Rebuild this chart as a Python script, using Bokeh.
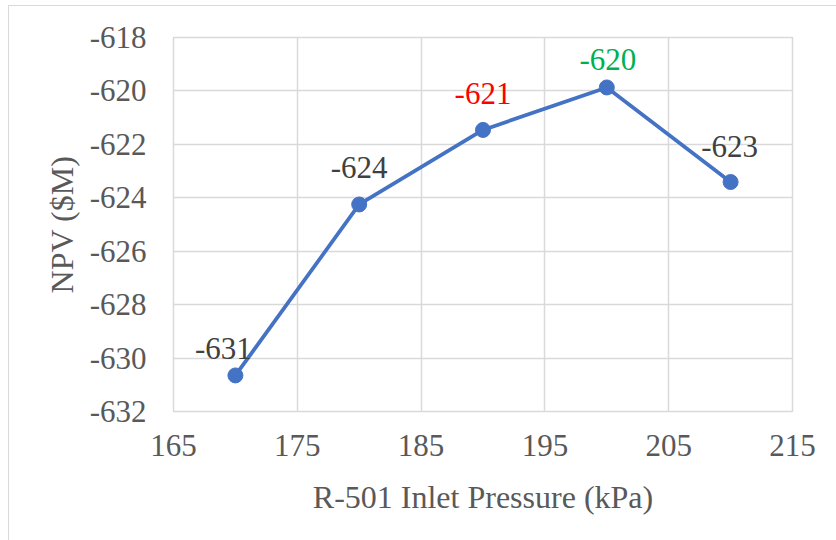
from bokeh.plotting import figure
from bokeh.models import FixedTicker, ColumnDataSource, PrintfTickFormatter
from bokeh.core.properties import value
from bokeh.embed import file_html
from bokeh.resources import INLINE

# R-501 inlet pressure (kPa) vs. net present value ($M)
pressure = [170, 180, 190, 200, 210]
npv = [-630.65, -624.25, -621.46, -619.87, -623.41]
label_colors = ["#404040", "#404040", "#FF0000", "#00B050", "#404040"]

x_ticks = [165, 175, 185, 195, 205, 215]
y_ticks = [-632, -630, -628, -626, -624, -622, -620, -618]

# label placement relative to each point, in screen pixels
label_dx = [-12, 0, 0, 1, -1]
label_dy = [-27, -37, -36, -28, -36]

FONT = "Liberation Serif, Times New Roman, DejaVu Serif, serif"
GRID = "#d9d9d9"
AXIS_TEXT = "#595959"

src = ColumnDataSource(dict(
    x=pressure,
    y=npv,
    txt=[f"{round(v):d}" for v in npv],
    color=label_colors,
    dx=label_dx,
    dy=label_dy,
))

p = figure(
    width=828, height=535,
    x_range=(165, 215), y_range=(-632, -618),
    output_backend="svg", toolbar_location=None,
    min_border_left=164, min_border_right=45,
    min_border_top=31, min_border_bottom=130,
)
p.margin = (5, 0, 0, 8)
p.styles = {"border-left": f"1px solid {GRID}", "border-top": f"1px solid {GRID}"}

p.outline_line_color = GRID
p.outline_line_width = 1.5

for ax, ticks in ((p.xaxis[0], x_ticks), (p.yaxis[0], y_ticks)):
    ax.ticker = FixedTicker(ticks=ticks)
    ax.formatter = PrintfTickFormatter(format="%d")
    ax.axis_line_color = None
    ax.major_tick_line_color = None
    ax.minor_tick_line_color = None
    ax.major_tick_out = 0
    ax.major_tick_in = 0
    ax.major_label_text_font = FONT
    ax.major_label_text_font_size = "31px"
    ax.major_label_text_color = AXIS_TEXT
    ax.axis_label_text_font = FONT
    ax.axis_label_text_font_size = "32px"
    ax.axis_label_text_font_style = "normal"
    ax.axis_label_text_color = AXIS_TEXT

p.xaxis.axis_label = "R-501 Inlet Pressure (kPa)"
p.yaxis.axis_label = "NPV ($M)"
p.xaxis.major_label_standoff = 23
p.xaxis.axis_label_standoff = 20
p.yaxis.major_label_standoff = 27
p.yaxis.axis_label_standoff = 7

p.xgrid.ticker = FixedTicker(ticks=x_ticks)
p.ygrid.ticker = FixedTicker(ticks=y_ticks)
for g in (p.xgrid[0], p.ygrid[0]):
    g.grid_line_color = GRID
    g.grid_line_width = 1.5

p.line("x", "y", source=src, line_color="#4472C4", line_width=3.75)
p.scatter("x", "y", source=src, size=15, fill_color="#4472C4", line_color="#4472C4")
p.text("x", "y", text="txt", source=src, text_color="color",
       x_offset="dx", y_offset="dy",
       text_align="center", text_baseline="middle",
       text_font=value(FONT), text_font_size="31px")

open("out.html", "w").write(file_html(p, INLINE))
